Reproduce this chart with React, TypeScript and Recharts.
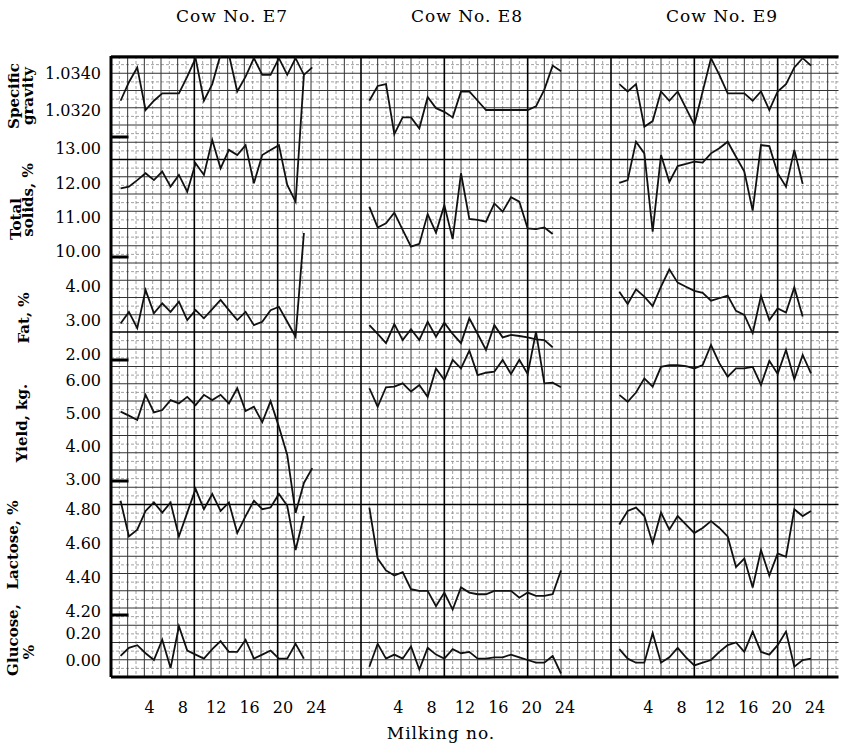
import React from "react";
import {
    CartesianGrid,
    ComposedChart,
    Line,
    ReferenceLine,
    XAxis,
    YAxis,
} from "recharts";

const W = 857;
const H = 746;
const PLOT_TOP = 56;
const PLOT_BOTTOM = 677;
const PLOT_LEFT = 111;
const PLOT_RIGHT = 838.5;
const X_MAX = 87.3; // one graph-paper column per milking
const PX = (PLOT_RIGHT - PLOT_LEFT) / X_MAX;
const ROW = 17.25; // graph-paper row height

const cows = ["E7", "E8", "E9"];
const cowOffsets = [0.15, 30, 60];
const milkingTicks = [4, 8, 12, 16, 20, 24];

// Cow E7
const e7Gravity = [1.0325, 1.0335, 1.0343, 1.032, 1.0325, 1.0329, 1.0329, 1.0329, 1.0338, 1.0348, 1.0325, 1.0334, 1.035, 1.035, 1.033, 1.0338, 1.0348, 1.0339, 1.0339, 1.0348, 1.0339, 1.0348, 1.0339, 1.0343];
const e7Solids = [11.84, 11.89, 12.08, 12.28, 12.08, 12.33, 11.89, 12.23, 11.74, 12.57, 12.23, 13.25, 12.42, 12.96, 12.81, 13.1, 11.99, 12.81, 12.96, 13.1, 11.94, 11.45, 15.14];
const e7Fat = [2.92, 3.26, 2.78, 3.9, 3.22, 3.51, 3.26, 3.56, 3.02, 3.31, 3.07, 3.34, 3.61, 3.31, 3.02, 3.26, 2.87, 2.97, 3.31, 3.41, 2.97, 2.53, 5.58];
const e7Yield = [5.04, 4.92, 4.79, 5.55, 5.02, 5.09, 5.39, 5.29, 5.49, 5.24, 5.55, 5.39, 5.55, 5.29, 5.75, 5.06, 5.19, 4.72, 5.36, 4.58, 3.73, 1.97, 2.88, 3.33];
const e7Lactose = [4.85, 4.64, 4.68, 4.79, 4.84, 4.78, 4.84, 4.64, 4.78, 4.92, 4.8, 4.89, 4.79, 4.84, 4.66, 4.76, 4.85, 4.8, 4.81, 4.89, 4.82, 4.56, 4.76];
const e7Glucose = [0.03, 0.09, 0.11, 0.05, 0.0, 0.15, -0.06, 0.25, 0.07, 0.04, 0.01, 0.08, 0.14, 0.06, 0.06, 0.15, 0.01, 0.04, 0.07, 0.01, 0.01, 0.12, 0.01];

// Cow E8
const e8Gravity = [1.0325, 1.0333, 1.0334, 1.0307, 1.0316, 1.0316, 1.031, 1.0327, 1.0321, 1.0319, 1.0316, 1.033, 1.033, 1.0325, 1.032, 1.032, 1.032, 1.032, 1.032, 1.032, 1.0322, 1.0331, 1.0344, 1.0341];
const e8Solids = [11.3, 10.7, 10.82, 11.13, 10.63, 10.14, 10.22, 11.09, 10.55, 11.35, 10.36, 12.28, 10.95, 10.92, 10.87, 11.4, 11.16, 11.58, 11.45, 10.67, 10.65, 10.7, 10.51];
const e8Fat = [2.87, 2.61, 2.34, 2.9, 2.43, 2.75, 2.43, 2.97, 2.53, 2.94, 2.61, 2.34, 3.07, 2.61, 2.14, 2.87, 2.51, 2.58, 2.55, 2.51, 2.45, 2.43, 2.22];
const e8Yield = [5.75, 5.19, 5.78, 5.8, 5.9, 5.65, 5.85, 5.49, 6.35, 6.0, 6.61, 6.35, 6.89, 6.15, 6.22, 6.25, 6.61, 6.18, 6.61, 6.18, 7.46, 5.9, 5.92, 5.78];
const e8Lactose = [4.81, 4.51, 4.44, 4.41, 4.43, 4.33, 4.32, 4.32, 4.23, 4.31, 4.21, 4.34, 4.31, 4.3, 4.3, 4.32, 4.32, 4.32, 4.28, 4.31, 4.29, 4.29, 4.3, 4.44];
const e8Glucose = [-0.05, 0.12, 0.01, 0.04, 0.01, 0.1, -0.07, 0.09, 0.04, 0.01, 0.08, 0.05, 0.06, 0.01, 0.01, 0.02, 0.02, 0.04, 0.02, 0.0, -0.02, -0.02, 0.03, -0.1];

// Cow E9
const e9Gravity = [1.0334, 1.033, 1.0334, 1.0311, 1.0314, 1.033, 1.0325, 1.033, 1.0321, 1.0312, 1.033, 1.0348, 1.0339, 1.0329, 1.0329, 1.0329, 1.0325, 1.033, 1.032, 1.033, 1.0334, 1.0343, 1.0348, 1.0344];
const e9Solids = [12.0, 12.08, 13.2, 12.86, 10.58, 12.81, 12.03, 12.49, 12.55, 12.62, 12.59, 12.86, 13.01, 13.2, 12.76, 12.33, 11.19, 13.1, 13.07, 12.28, 11.89, 12.96, 11.97];
const e9Fat = [3.85, 3.49, 3.92, 3.71, 3.43, 4.0, 4.51, 4.12, 4.0, 3.88, 3.82, 3.59, 3.66, 3.74, 3.29, 3.17, 2.63, 3.73, 3.02, 3.36, 3.24, 3.98, 3.12];
const e9Yield = [5.55, 5.34, 5.62, 6.05, 5.8, 6.4, 6.45, 6.45, 6.42, 6.35, 6.45, 7.06, 6.51, 6.1, 6.35, 6.35, 6.4, 5.85, 6.58, 6.18, 6.91, 6.02, 6.76, 6.2];
const e9Lactose = [4.71, 4.79, 4.81, 4.76, 4.6, 4.78, 4.68, 4.76, 4.71, 4.66, 4.69, 4.73, 4.69, 4.64, 4.46, 4.51, 4.34, 4.56, 4.41, 4.54, 4.52, 4.8, 4.76, 4.79];
const e9Glucose = [0.08, 0.01, -0.02, -0.02, 0.2, -0.02, 0.02, 0.09, 0.02, -0.04, -0.02, 0.0, 0.06, 0.11, 0.13, 0.06, 0.21, 0.06, 0.04, 0.11, 0.21, -0.05, 0.0, 0.01];

// each trace gets its own strip of the sheet: row of a reference value + rows per unit
interface Band {
    name: string;
    ref: number;
    row: number;
    perUnit: number;
    ticks: number[];
    digits: number;
    values: number[][];
}

const bands: Band[] = [
    { name: "gravity", ref: 1.034, row: 73, perUnit: 18500, ticks: [1.034, 1.032], digits: 4, values: [e7Gravity, e8Gravity, e9Gravity] },
    { name: "solids", ref: 11.5, row: 200, perUnit: 34.3, ticks: [13, 12, 11, 10], digits: 2, values: [e7Solids, e8Solids, e9Solids] },
    { name: "fat", ref: 3, row: 320.7, perUnit: 34, ticks: [4, 3, 2], digits: 2, values: [e7Fat, e8Fat, e9Fat] },
    { name: "yield", ref: 6, row: 380, perUnit: 33, ticks: [6, 5, 4, 3], digits: 2, values: [e7Yield, e8Yield, e9Yield] },
    { name: "lactose", ref: 4.5, row: 560.25, perUnit: 170, ticks: [4.8, 4.6, 4.4, 4.2], digits: 2, values: [e7Lactose, e8Lactose, e9Lactose] },
    { name: "glucose", ref: 0, row: 660, perUnit: 135, ticks: [0.2, 0], digits: 2, values: [e7Glucose, e8Glucose, e9Glucose] },
];

const separatorRows = [137, 257, 360, 481, 615];

const toRow = (band: Band, v: number) => band.row + (band.ref - v) * band.perUnit;

const yTicks: number[] = [];
const yLabels: Record<string, string> = {};
bands.forEach((band) => {
    band.ticks.forEach((t) => {
        const r = toRow(band, t);
        yTicks.push(r);
        yLabels[r.toFixed(2)] = t.toFixed(band.digits);
    });
});

const xTicks = cowOffsets.flatMap((off) => milkingTicks.map((m) => m + off));

const traces = bands.flatMap((band) =>
    band.values.map((vals, i) => ({
        key: `${band.name}-${cows[i]}`,
        data: vals.map((v, k) => ({ x: k + 1 + cowOffsets[i], y: toRow(band, v) })),
    })),
);

// graph paper
const cols = Array.from({ length: 88 }, (_, i) => i);
const colPx = (c: number) => PLOT_LEFT + c * PX;
const minorCols = cols.filter((c) => c % 2 === 1).map(colPx);
const majorCols = cols.filter((c) => c % 2 === 0 && c % 10 !== 0).map(colPx);
const heavyCols = cols.filter((c) => c % 10 === 0 && c > 0).map(colPx);
const rowIdx = Array.from({ length: 37 }, (_, i) => i);
const majorRows = rowIdx.filter((k) => k % 10 !== 0).map((k) => PLOT_BOTTOM - k * ROW);
const heavyRows = rowIdx.filter((k) => k % 10 === 0 && k > 0).map((k) => PLOT_BOTTOM - k * ROW);
const minorRows = rowIdx.slice(0, 36).map((k) => PLOT_BOTTOM - (k + 0.5) * ROW);

const serif = "'DejaVu Serif', 'Liberation Serif', serif";

const sideLabels = [
    { text: "Specific", x: 14, y: 96 },
    { text: "gravity", x: 28, y: 96 },
    { text: "Total", x: 16, y: 219 },
    { text: "solids, %", x: 28, y: 200 },
    { text: "Fat, %", x: 24, y: 318 },
    { text: "Yield, kg.", x: 22, y: 423 },
    { text: "Lactose, %", x: 13, y: 545 },
    { text: "Glucose,", x: 13, y: 640 },
    { text: "%", x: 29, y: 652 },
];

const titleCenters = [232, 467, 722];

export default function App() {
    return (
        <div
            style={{
                position: "absolute",
                left: 0,
                top: 0,
                width: W,
                height: H,
                background: "#fff",
                fontFamily: serif,
            }}
        >
            <ComposedChart
                width={W}
                height={H}
                margin={{ top: PLOT_TOP, right: W - PLOT_RIGHT, bottom: H - PLOT_BOTTOM - 40, left: PLOT_LEFT - 100 }}
            >
                <CartesianGrid
                    horizontalPoints={minorRows}
                    verticalPoints={minorCols}
                    stroke="#8a8a8a"
                    strokeWidth={0.8}
                    strokeDasharray="3 2"
                />
                <CartesianGrid
                    horizontalPoints={majorRows}
                    verticalPoints={majorCols}
                    stroke="#333"
                    strokeWidth={1}
                />
                <CartesianGrid
                    horizontalPoints={heavyRows}
                    verticalPoints={heavyCols}
                    stroke="#000"
                    strokeWidth={1.6}
                />
                <XAxis
                    type="number"
                    dataKey="x"
                    domain={[0, X_MAX]}
                    allowDataOverflow
                    ticks={xTicks}
                    interval={0}
                    tickFormatter={(v: number) => String(Math.round(v) % 30)}
                    tickLine={false}
                    tickSize={6}
                    tickMargin={19}
                    height={40}
                    axisLine={{ stroke: "#000", strokeWidth: 3 }}
                    tick={{ fill: "#000", fontSize: 16, fontFamily: serif, dx: 4 }}
                />
                <YAxis
                    type="number"
                    domain={[PLOT_TOP, PLOT_BOTTOM]}
                    reversed
                    allowDataOverflow
                    ticks={yTicks}
                    interval={0}
                    tickFormatter={(v: number) => yLabels[v.toFixed(2)] ?? ""}
                    tickLine={false}
                    tickSize={6}
                    tickMargin={4}
                    width={100}
                    axisLine={{ stroke: "#000", strokeWidth: 3 }}
                    tick={{ fill: "#000", fontSize: 16, fontFamily: serif }}
                />
                <ReferenceLine y={PLOT_TOP + 1} stroke="#000" strokeWidth={3} />
                {separatorRows.map((r) => (
                    <ReferenceLine
                        key={r}
                        segment={[
                            { x: 0, y: r },
                            { x: 2.1, y: r },
                        ]}
                        stroke="#000"
                        strokeWidth={3}
                    />
                ))}
                {traces.map((t) => (
                    <Line
                        key={t.key}
                        data={t.data}
                        dataKey="y"
                        type="linear"
                        stroke="#111"
                        strokeWidth={1.8}
                        dot={false}
                        isAnimationActive={false}
                    />
                ))}
            </ComposedChart>

            {cows.map((c, i) => (
                <div
                    key={c}
                    style={{
                        position: "absolute",
                        left: titleCenters[i],
                        top: 16,
                        transform: "translate(-50%, -50%)",
                        fontSize: 17,
                        letterSpacing: 1,
                        whiteSpace: "nowrap",
                    }}
                >
                    Cow No. {c}
                </div>
            ))}

            {sideLabels.map((l) => (
                <div
                    key={l.text + l.y}
                    style={{
                        position: "absolute",
                        left: l.x,
                        top: l.y,
                        transform: "translate(-50%, -50%) rotate(-90deg)",
                        fontSize: 15,
                        fontWeight: 700,
                        whiteSpace: "nowrap",
                    }}
                >
                    {l.text}
                </div>
            ))}

            <div
                style={{
                    position: "absolute",
                    left: 441,
                    top: 733,
                    transform: "translate(-50%, -50%)",
                    fontSize: 17,
                    letterSpacing: 1,
                    whiteSpace: "nowrap",
                }}
            >
                Milking no.
            </div>
        </div>
    );
}
